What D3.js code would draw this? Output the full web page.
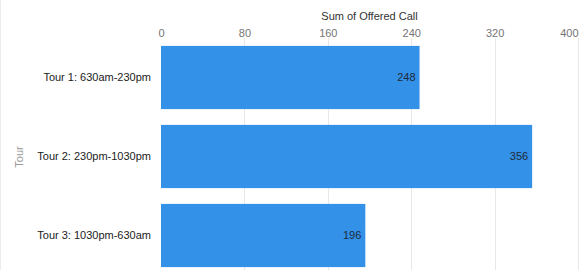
<!DOCTYPE html>
<html>
<head>
<meta charset="utf-8">
<script src="https://cdn.jsdelivr.net/npm/d3@7"></script>
<style>
  body { margin: 0; background: #fff; }
  svg { display: block; font-family: "Liberation Sans", Arial, sans-serif; }
</style>
</head>
<body>
<div id="chart"></div>
<script>
var svgWidth = 587;
var svgHeight = 270;

// data
var tours = ["Tour 1: 630am-230pm", "Tour 2: 230pm-1030pm", "Tour 3: 1030pm-630am"];
var offeredCalls = [248, 356, 196];
var xTicks = [0, 80, 160, 240, 320, 400];

var margin = { top: 38, right: 9, bottom: -5, left: 161 };
var width = svgWidth - margin.left - margin.right;
var height = svgHeight - margin.top - margin.bottom;

var svg = d3.select("#chart")
  .append("svg")
  .attr("width", svgWidth)
  .attr("height", svgHeight);

// faint frame line on the left edge
svg.append("line")
  .attr("x1", 0.5).attr("x2", 0.5)
  .attr("y1", 0).attr("y2", svgHeight)
  .attr("stroke", "#ececec");

var chartGroup = svg.append("g")
  .attr("transform", `translate(${margin.left}, ${margin.top})`);

var x = d3.scaleLinear()
  .domain([0, 400])
  .range([0, width]);

var y = d3.scaleBand()
  .domain(tours)
  .range([0, height])
  .paddingInner(0.2)
  .paddingOuter(0.1);

// gridlines
chartGroup.selectAll(".grid")
  .data(xTicks.filter(d => d > 0))
  .enter()
  .append("line")
  .attr("class", "grid")
  .attr("x1", d => Math.round(x(d)) + 0.5)
  .attr("x2", d => Math.round(x(d)) + 0.5)
  .attr("y1", 0)
  .attr("y2", height)
  .attr("stroke", "#e8e8e8");

// top axis labels
var topAxis = d3.axisTop(x)
  .tickValues(xTicks)
  .tickSize(0)
  .tickPadding(0);

var xAxis = chartGroup.append("g")
  .call(topAxis);
xAxis.select(".domain").remove();
xAxis.selectAll("text")
  .attr("font-family", "'Liberation Sans', Arial, sans-serif")
  .attr("font-size", "11px")
  .attr("fill", "#757575")
  .attr("dy", "0")
  .attr("y", -1)
  .attr("text-anchor", (d, i) => i === xTicks.length - 1 ? "end" : "middle");

// axis title
chartGroup.append("text")
  .attr("x", width / 2)
  .attr("y", -18)
  .attr("text-anchor", "middle")
  .attr("font-size", "11px")
  .attr("fill", "#333")
  .text("Sum of Offered Call");

// bars
chartGroup.selectAll("rect")
  .data(offeredCalls)
  .enter()
  .append("rect")
  .attr("x", 0)
  .attr("y", (d, i) => y(tours[i]))
  .attr("width", d => x(d))
  .attr("height", y.bandwidth())
  .attr("fill", "#3391e8");

// value labels inside bar ends
chartGroup.selectAll(".value")
  .data(offeredCalls)
  .enter()
  .append("text")
  .attr("class", "value")
  .attr("x", d => x(d) - 4)
  .attr("y", (d, i) => y(tours[i]) + y.bandwidth() / 2)
  .attr("dy", "0.35em")
  .attr("text-anchor", "end")
  .attr("font-size", "11px")
  .attr("fill", "#1f2a38")
  .text(d => d);

// category labels
chartGroup.selectAll(".cat")
  .data(tours)
  .enter()
  .append("text")
  .attr("class", "cat")
  .attr("x", -10)
  .attr("y", d => y(d) + y.bandwidth() / 2)
  .attr("dy", "0.35em")
  .attr("text-anchor", "end")
  .attr("font-size", "11px")
  .attr("fill", "#222")
  .text(d => d);

// y axis title
svg.append("text")
  .attr("transform", "rotate(-90)")
  .attr("x", -157)
  .attr("y", 23)
  .attr("text-anchor", "middle")
  .attr("font-size", "11px")
  .attr("fill", "#999")
  .text("Tour");
</script>
</body>
</html>
